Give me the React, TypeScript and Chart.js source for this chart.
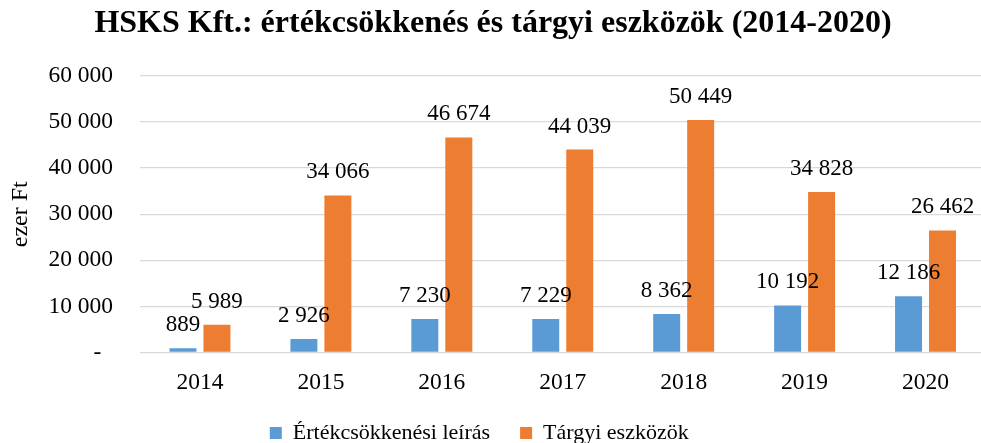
import React, { useEffect, useRef } from "react";
import { Chart, registerables } from "chart.js";

Chart.register(...registerables);

const TITLE = "HSKS Kft.: értékcsökkenés és tárgyi eszközök (2014-2020)";
const Y_TITLE = "ezer Ft";
const years = ["2014", "2015", "2016", "2017", "2018", "2019", "2020"];
const seriesNames = ["Értékcsökkenési leírás", "Tárgyi eszközök"];
const ecsValues = [889, 2926, 7230, 7229, 8362, 10192, 12186];
const eszkValues = [5989, 34066, 46674, 44039, 50449, 34828, 26462];
const yMin = 0;
const yMax = 60000;
const yStep = 10000;

const FONT = "'Liberation Serif', 'Times New Roman', serif";

const fmt = (v: number) =>
  String(Math.round(v)).replace(/\B(?=(\d{3})+(?!\d))/g, " ");

const dataLabels = {
  id: "dataLabels",
  afterDatasetsDraw(chart: any) {
    const ctx = chart.ctx;
    ctx.save();
    ctx.font = `23px ${FONT}`;
    ctx.fillStyle = "#000000";
    ctx.textAlign = "center";
    ctx.textBaseline = "alphabetic";
    chart.data.datasets.forEach((ds: any, di: number) => {
      const meta = chart.getDatasetMeta(di);
      meta.data.forEach((bar: any, i: number) => {
        ctx.fillText(fmt(ds.data[i]), bar.x, bar.y - 17);
      });
    });
    ctx.restore();
  },
};

export default function App() {
  const ref = useRef<HTMLCanvasElement>(null);
  useEffect(() => {
    if (!ref.current) return;
    const chart = new Chart(ref.current, {
      type: "bar",
      data: {
        labels: years,
        datasets: [
          {
            label: seriesNames[0],
            data: ecsValues,
            backgroundColor: "#5B9BD5",
            categoryPercentage: 0.562,
            barPercentage: 0.794,
          },
          {
            label: seriesNames[1],
            data: eszkValues,
            backgroundColor: "#ED7D31",
            categoryPercentage: 0.562,
            barPercentage: 0.794,
          },
        ],
      },
      options: {
        responsive: false,
        animation: false,
        devicePixelRatio: 1,
        layout: { padding: 0 },
        plugins: {
          title: {
            display: true,
            text: TITLE,
            color: "#000000",
            font: { family: FONT, size: 32, weight: "bold" },
            padding: { top: 5, bottom: 32.6 },
          },
          legend: {
            position: "bottom",
            labels: {
              color: "#000000",
              font: { family: FONT, size: 22 },
              boxWidth: 12,
              boxHeight: 12,
              padding: 30,
              generateLabels(chart: any) {
                const items = Chart.defaults.plugins.legend.labels.generateLabels(chart);
                if (items.length > 1) items[items.length - 1].text += "     ";
                return items;
              },
            },
          },
          tooltip: { enabled: false },
        },
        scales: {
          x: {
            grid: { display: false, drawTicks: false },
            border: { display: false },
            ticks: {
              color: "#000000",
              font: { family: FONT, size: 23.5 },
              padding: 16,
            },
            afterFit(scale: any) {
              scale.height = 39.6;
            },
          },
          y: {
            min: yMin,
            max: yMax,
            grid: { color: "#D9D9D9", lineWidth: 1.3, drawTicks: false },
            border: { display: false },
            ticks: {
              stepSize: yStep,
              color: "#000000",
              font: { family: FONT, size: 23.5 },
              padding: 26.5,
              callback: (v: any) => (Number(v) === 0 ? "-  " : fmt(Number(v))),
            },
            title: {
              display: true,
              text: Y_TITLE,
              color: "#000000",
              font: { family: FONT, size: 24 },
              padding: { top: 6, bottom: 0 },
            },
            afterFit(scale: any) {
              scale.width = 139.5;
            },
          },
        },
      },
      plugins: [dataLabels],
    });
    return () => chart.destroy();
  }, []);
  return (
    <div
      style={{
        position: "fixed",
        left: 0,
        top: 0,
        width: 981,
        height: 443,
        overflow: "hidden",
        background: "#ffffff",
      }}
    >
      <canvas
        ref={ref}
        width={986}
        height={454}
        style={{ display: "block", width: 986, height: 454 }}
      />
    </div>
  );
}
